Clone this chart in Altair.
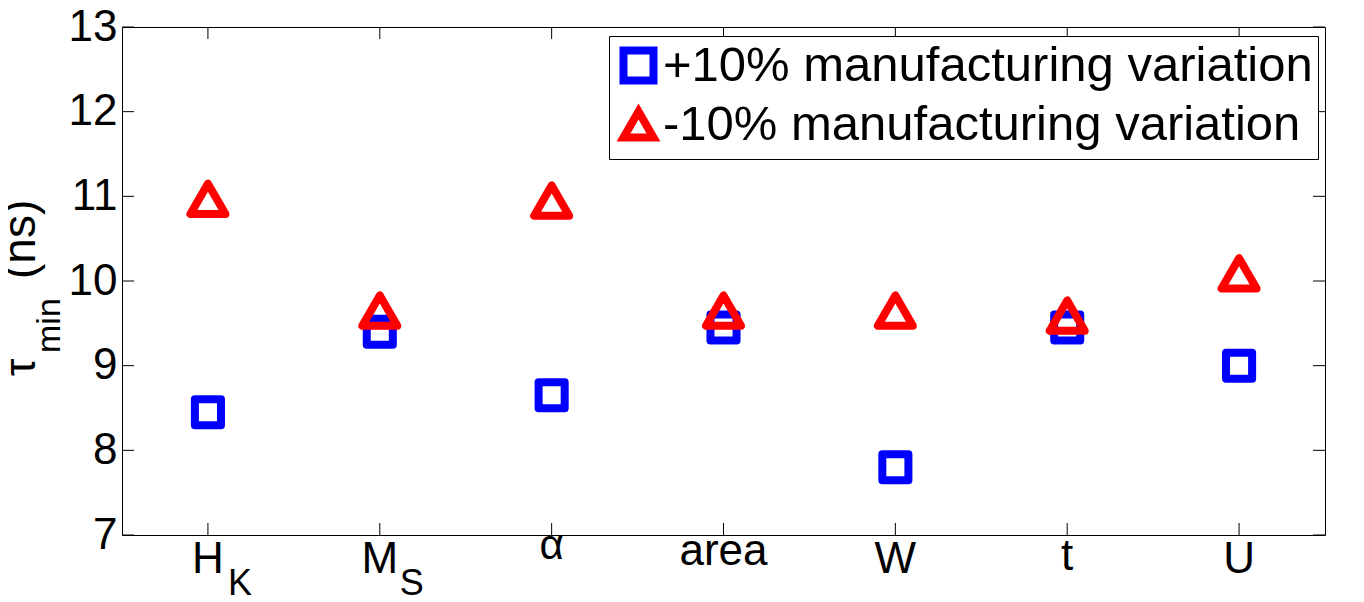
import altair as alt
import pandas as pd

# ---- data ----
categories = ["H_K", "M_S", "alpha", "area", "W", "t", "U"]
main_labels = ["H", "M", "α", "area", "W", "t", "U"]
sub_labels = ["K", "S", "", "", "", "", ""]
plus_values = [8.45, 9.40, 8.65, 9.45, 7.80, 9.45, 9.00]
minus_values = [10.97, 9.65, 10.95, 9.65, 9.65, 9.59, 10.09]
series_names = ["+10% manufacturing variation", "-10% manufacturing variation"]
series_colors = ["#0000ff", "#ff0000"]
series_shapes = ["square", "triangle-up"]
y_ticks = [7, 8, 9, 10, 11, 12, 13]
y_title_main = ["τ"]
y_title_sub = ["min"]
y_title_unit = ["(ns)"]

W, H = 1203, 508
FONT = "Liberation Sans"

rows = []
for name, vals in zip(series_names, [plus_values, minus_values]):
    for c, v in zip(categories, vals):
        rows.append({"cat": c, "series": name, "tau": v})
df = pd.DataFrame(rows)
labels_df = pd.DataFrame({"cat": categories, "main": main_labels, "sub": sub_labels})
yt_df = pd.DataFrame({"tau": y_ticks})
xt_df = pd.DataFrame({"cat": categories})

xscale = alt.Scale(type="point", domain=categories, padding=0.5)
yscale = alt.Scale(domain=[7, 13], nice=False, zero=False)
yaxis = alt.Axis(
    values=y_ticks, tickSize=0, domain=False, grid=False,
    labelFont=FONT, labelFontSize=44, labelColor="black",
    labelPadding=5, title=None)

legend = alt.Legend(
    orient="none", legendX=487, legendY=9, title=None,
    labelFont=FONT, labelFontSize=49, labelColor="black", labelLimit=2000,
    symbolStrokeWidth=8, symbolSize=900, strokeColor="black", fillColor="white",
    padding=5, rowPadding=-2, symbolOffset=0, labelOffset=0,
)

X = alt.X("cat:N", scale=xscale, axis=None)
Y = alt.Y("tau:Q", scale=yscale, axis=yaxis)


def point_layer(series, size):
    return alt.Chart(df).transform_filter(
        alt.FieldEqualPredicate(field="series", equal=series)
    ).mark_point(filled=False, strokeWidth=8, opacity=1, size=size, strokeJoin="round").encode(
        x=X,
        y=Y,
        color=alt.Color("series:N", scale=alt.Scale(domain=series_names, range=series_colors), legend=legend),
        shape=alt.Shape("series:N", scale=alt.Scale(domain=series_names, range=series_shapes), legend=legend),
    )


pts_plus = point_layer(series_names[0], 680)
pts_minus = point_layer(series_names[1], 1225)

# inward tick marks on all four sides
tick_len = 12
yt_left = alt.Chart(yt_df).mark_rule(color="black", strokeWidth=1).encode(
    y=Y, x=alt.value(0), x2=alt.value(tick_len))
yt_right = alt.Chart(yt_df).mark_rule(color="black", strokeWidth=1).encode(
    y=Y, x=alt.value(W - tick_len), x2=alt.value(W))
xt_bottom = alt.Chart(xt_df).mark_rule(color="black", strokeWidth=1).encode(
    x=X, y=alt.value(H), y2=alt.value(H - tick_len))
xt_top = alt.Chart(xt_df).mark_rule(color="black", strokeWidth=1).encode(
    x=X, y=alt.value(0), y2=alt.value(tick_len))


def label_layer(cats, baseline_y, size):
    return alt.Chart(labels_df).transform_filter(
        alt.FieldOneOfPredicate(field="cat", oneOf=cats)
    ).mark_text(font=FONT, fontSize=size, align="center", baseline="alphabetic", color="black").encode(
        x=X, y=alt.value(baseline_y), text="main:N")


lab_caps = label_layer(["H_K", "M_S", "W", "U"], H + 38, 44)
lab_t = label_layer(["t"], H + 35, 44)
lab_area = label_layer(["area"], H + 30, 44)
lab_alpha = label_layer(["alpha"], H + 24, 42)

lab_sub = alt.Chart(labels_df).transform_filter("datum.sub != ''").mark_text(
    font=FONT, fontSize=36, align="left", baseline="alphabetic", dx=20, color="black"
).encode(x=X, y=alt.value(H + 60), text="sub:N")

# y axis title  tau_min (ns), rotated
t_main = alt.Chart(pd.DataFrame({"t": y_title_main})).mark_text(
    font=FONT, fontSize=44, angle=270, align="left", baseline="alphabetic", color="black"
).encode(x=alt.value(-87), y=alt.value(349), text="t:N")
t_sub = alt.Chart(pd.DataFrame({"t": y_title_sub})).mark_text(
    font=FONT, fontSize=34, angle=270, align="left", baseline="alphabetic", color="black"
).encode(x=alt.value(-62), y=alt.value(326), text="t:N")
t_unit = alt.Chart(pd.DataFrame({"t": y_title_unit})).mark_text(
    font=FONT, fontSize=46, angle=270, align="left", baseline="alphabetic", color="black"
).encode(x=alt.value(-87), y=alt.value(252), text="t:N")

chart = alt.layer(
    yt_left, yt_right, xt_bottom, xt_top,
    pts_plus, pts_minus,
    lab_caps, lab_t, lab_area, lab_alpha, lab_sub,
    t_main, t_sub, t_unit,
).properties(
    width=W, height=H,
    autosize=alt.AutoSizeParams(type="none"),
    padding={"left": 114, "top": 19, "right": 30, "bottom": 68},
).configure_view(stroke="black", strokeWidth=1)

chart.save("out.html", embed_options={"renderer": "svg", "actions": False})
